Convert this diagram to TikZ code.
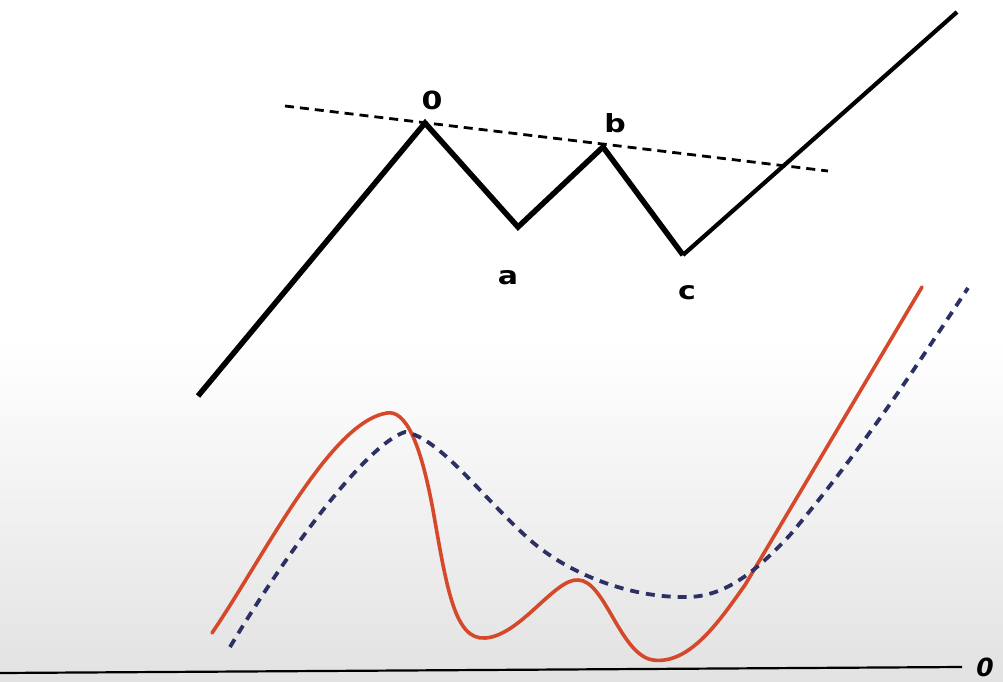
\documentclass[tikz,border=0pt]{standalone}
\usepackage{fontspec}
\newfontfamily\labfont{DejaVu Sans}
\definecolor{redcurve}{RGB}{214,72,42}
\definecolor{navy}{RGB}{44,48,98}
\definecolor{paperlow}{RGB}{226,226,226}
\begin{document}
\begin{tikzpicture}[x=1pt,y=-1pt,
  zig/.style={line width=5.5pt,black,line join=miter},
  trend/.style={line width=2.8pt,black,dash pattern=on 9pt off 6pt},
  lab/.style={font=\labfont\bfseries\fontsize{25}{25}\selectfont,inner sep=0pt,xscale=1.2},
  redline/.style={line width=3.6pt,redcurve,line cap=round},
  blueline/.style={line width=3.8pt,navy,dash pattern=on 9pt off 7pt},
  base/.style={line width=2.2pt,black}]
\shade[top color=white,bottom color=paperlow,middle color=white] (0,0) rectangle (1003,682);
\useasboundingbox (0,0) rectangle (1003,682);
% zigzag points
\coordinate (s) at (198,396);
\coordinate (p0) at (425,123);
\coordinate (pa) at (518,227);
\coordinate (pb) at (603,147);
\coordinate (pc) at (683,255);
\coordinate (e) at (957,12);
\coordinate (t1) at (285,106);
\coordinate (t2) at (828,171);
\draw[trend] (t1) -- (t2);
\draw[zig] (s) -- (p0) -- (pa) -- (pb) -- (pc);
\draw[line width=4.2pt,black] (pc) -- (e);
\node[lab] (l0) at (432,100) {0};
\node[lab] (la) at (508,278) {a};
\node[lab] (lb) at (615,123) {b};
\node[lab] (lc) at (687,293) {c};
% baseline
\coordinate (b1) at (0,673);
\coordinate (b2) at (962,667);
\draw[base] (b1) -- (b2);
\node[font=\labfont\bfseries\itshape\fontsize{25}{25}\selectfont,inner sep=0pt] (lz) at (985,667) {0};
% red curve
\coordinate (r0) at (212,633);
\coordinate (r1) at (387,413);
\coordinate (r2) at (485,638);
\coordinate (r3) at (578,580);
\coordinate (r4) at (653,660);
\coordinate (r5) at (922,287);
\draw[redline] (r0) .. controls (265,555) and (330,422) .. (r1)
  .. controls (405,410) and (420,440) .. (433,510)
  .. controls (447,590) and (455,640) .. (r2)
  .. controls (520,636) and (555,578) .. (r3)
  .. controls (605,580) and (620,655) .. (r4)
  .. controls (690,665) and (720,620) .. (745,585)
  -- (r5);
% blue dashed curve
\coordinate (d0) at (230,647);
\coordinate (d1) at (405,432);
\coordinate (d2) at (683,597);
\coordinate (d3) at (968,288);
\draw[blueline] (d0) .. controls (285,555) and (365,445) .. (d1)
  .. controls (440,438) and (480,495) .. (530,540)
  .. controls (570,575) and (630,597) .. (d2)
  .. controls (720,598) and (750,578) .. (790,535)
  .. controls (870,440) and (930,345) .. (d3);
\end{tikzpicture}
\end{document}
